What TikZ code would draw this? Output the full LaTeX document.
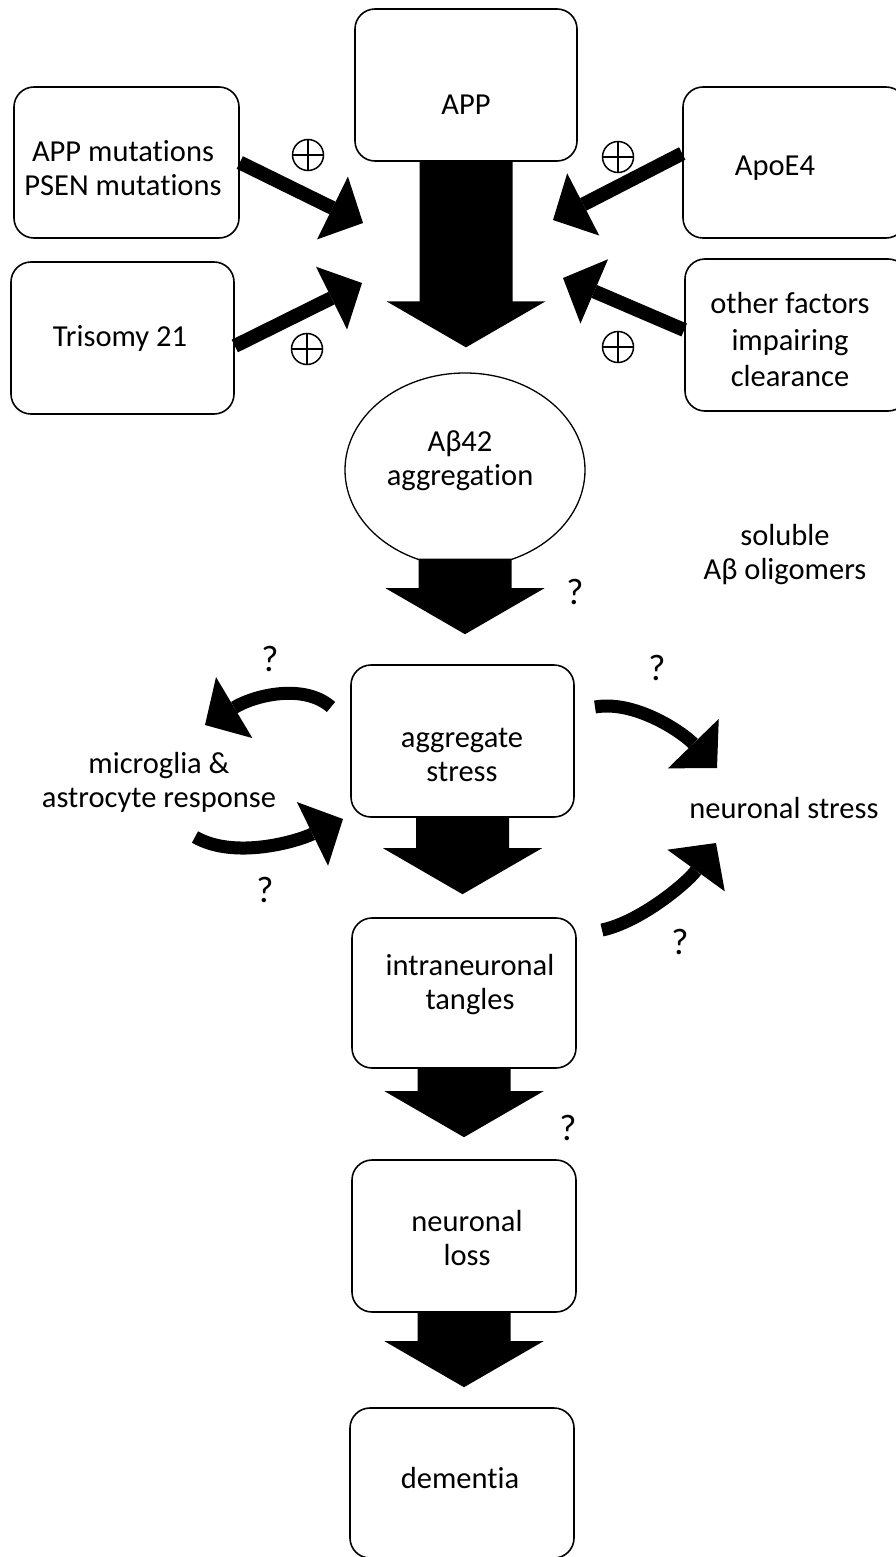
\documentclass[tikz,border=0pt]{standalone}
\usepackage{fontspec}
\setmainfont{Carlito}[Ligatures=NoCommon]
\usetikzlibrary{arrows.meta,shapes.geometric,calc}

\tikzset{
  box/.style={draw,line width=1.6pt,rounded corners=20pt,minimum width=223pt,minimum height=152pt},
  lbl/.style={align=center,inner sep=0pt,font=\fontsize{30.5}{34}\selectfont},
  qmark/.style={inner sep=0pt,font=\fontsize{37}{37}\selectfont},
  plus/.style={circle,draw,line width=1.5pt,minimum size=31pt,inner sep=0pt,
    path picture={\draw[line width=1.5pt] (path picture bounding box.north) -- (path picture bounding box.south)
      (path picture bounding box.west) -- (path picture bounding box.east);}},
  sidearrow/.style={line width=14pt,-{Triangle[length=34pt,width=70pt,line width=0pt]}},
  swoosh/.style={line width=13pt,-{Triangle[length=34pt,width=71pt,line width=0pt]}}
}

% big block arrow: shaft from #1 down to the tip #2
\newcommand{\blockarrow}[2]{%
  \fill let \p1=(#1), \p2=(#2) in
    (\x1-46.5pt,\y1) -- (\x1-46.5pt,\y2+46pt) -- (\x1-79.5pt,\y2+46pt) -- (\x1,\y2)
    -- (\x1+79.5pt,\y2+46pt) -- (\x1+46.5pt,\y2+46pt) -- (\x1+46.5pt,\y1) -- cycle;}

\begin{document}
\begin{tikzpicture}[x=1pt,y=-1pt]
  \useasboundingbox (0,0) rectangle (896,1557);

  % boxes
  \node[box,minimum width=222pt] (app) at (466,85) {};
  \node[box,minimum width=225pt,minimum height=151pt] (am) at (126.5,162.5) {};
  \node[box] (tri) at (122.5,338) {};
  \node[box,minimum height=151pt] (apoe) at (794.5,162.5) {};
  \node[box] (other) at (796.5,335) {};
  \node[draw,ellipse,line width=1.3pt,minimum width=240pt,minimum height=194pt,inner sep=0pt] (ab) at (465,470) {};
  \node[box] (as) at (462.5,741) {};
  \node[box,minimum width=224pt,minimum height=150pt] (tg) at (464,993) {};
  \node[box,minimum width=224pt] (loss) at (464,1236) {};
  \node[box,minimum width=224pt,minimum height=150pt] (dem) at (462,1483) {};

  % texts
  \node[lbl] (tapp) at (466,105) {APP};
  \node[lbl] (tam) at (123,168) {APP mutations\\PSEN mutations};
  \node[lbl] (ttri) at (120,338) {Trisomy 21};
  \node[lbl] (tapoe) at (775,168) {ApoE4};
  \node[lbl,font=\fontsize{30.5}{36.5}\selectfont] (tother) at (790,340) {other factors\\impairing\\clearance};
  \node[lbl] (tab) at (460,461) {Aβ42\\aggregation};
  \node[lbl] (tsol) at (785,555) {soluble\\Aβ oligomers};
  \node[lbl] (tas) at (462,755) {aggregate\\stress};
  \node[lbl] (tmic) at (159,782) {microglia \&\\astrocyte response};
  \node[lbl] (tns) at (784,808) {neuronal stress};
  \node[lbl] (ttg) at (470,985) {intraneuronal\\tangles};
  \node[lbl] (tloss) at (467,1238) {neuronal\\loss};
  \node[lbl] (tdem) at (460,1478) {dementia};

  \node[qmark] (q1) at (575,592) {?};
  \node[qmark] (q2) at (270,659) {?};
  \node[qmark] (q3) at (265,890) {?};
  \node[qmark] (q4) at (657,668) {?};
  \node[qmark] (q5) at (680,942) {?};
  \node[qmark] (q6) at (568,1128) {?};

  \node[plus] (p1) at (308,155) {};
  \node[plus] (p2) at (618,157) {};
  \node[plus] (p3) at (307,349) {};
  \node[plus] (p4) at (618,347) {};

  % main chain
  \blockarrow{app.south}{[yshift=25pt]ab.north}
  \blockarrow{[yshift=9pt]ab.south}{[yshift=30pt]as.north}
  \blockarrow{as.south}{[yshift=23pt]tg.north}
  \blockarrow{tg.south}{[yshift=22pt]loss.north}
  \blockarrow{loss.south}{[yshift=20pt]dem.north}

  % risk factors
  \coordinate (amtip) at (363,223);
  \coordinate (tritip) at (362,283);
  \coordinate (apoetip) at (553,220);
  \coordinate (othertip) at (563,278);
  \draw[sidearrow] (am.east) -- (amtip);
  \draw[sidearrow] ([yshift=-8pt]tri.east) -- (tritip);
  \draw[sidearrow] ([yshift=9pt]apoe.west) -- (apoetip);
  \draw[sidearrow] ([yshift=5pt]other.west) -- (othertip);

  % curved arrows
  \coordinate (ul0) at (331,707);  \coordinate (ul1) at (205,725);
  \coordinate (ll0) at (195,837);  \coordinate (ll1) at (343,819);
  \coordinate (ur0) at (595,707);  \coordinate (ur1) at (717,768);
  \coordinate (lr0) at (602,930);  \coordinate (lr1) at (716,843);
  \draw[swoosh] (ul0) .. controls (305,684) and (257,694) .. (ul1);
  \draw[swoosh] (ll0) .. controls (235,860) and (298,841) .. (ll1);
  \draw[swoosh] (ur0) .. controls (635,700) and (682,732) .. (ur1);
  \draw[swoosh] (lr0) .. controls (640,922) and (687,883) .. (lr1);
\end{tikzpicture}
\end{document}
